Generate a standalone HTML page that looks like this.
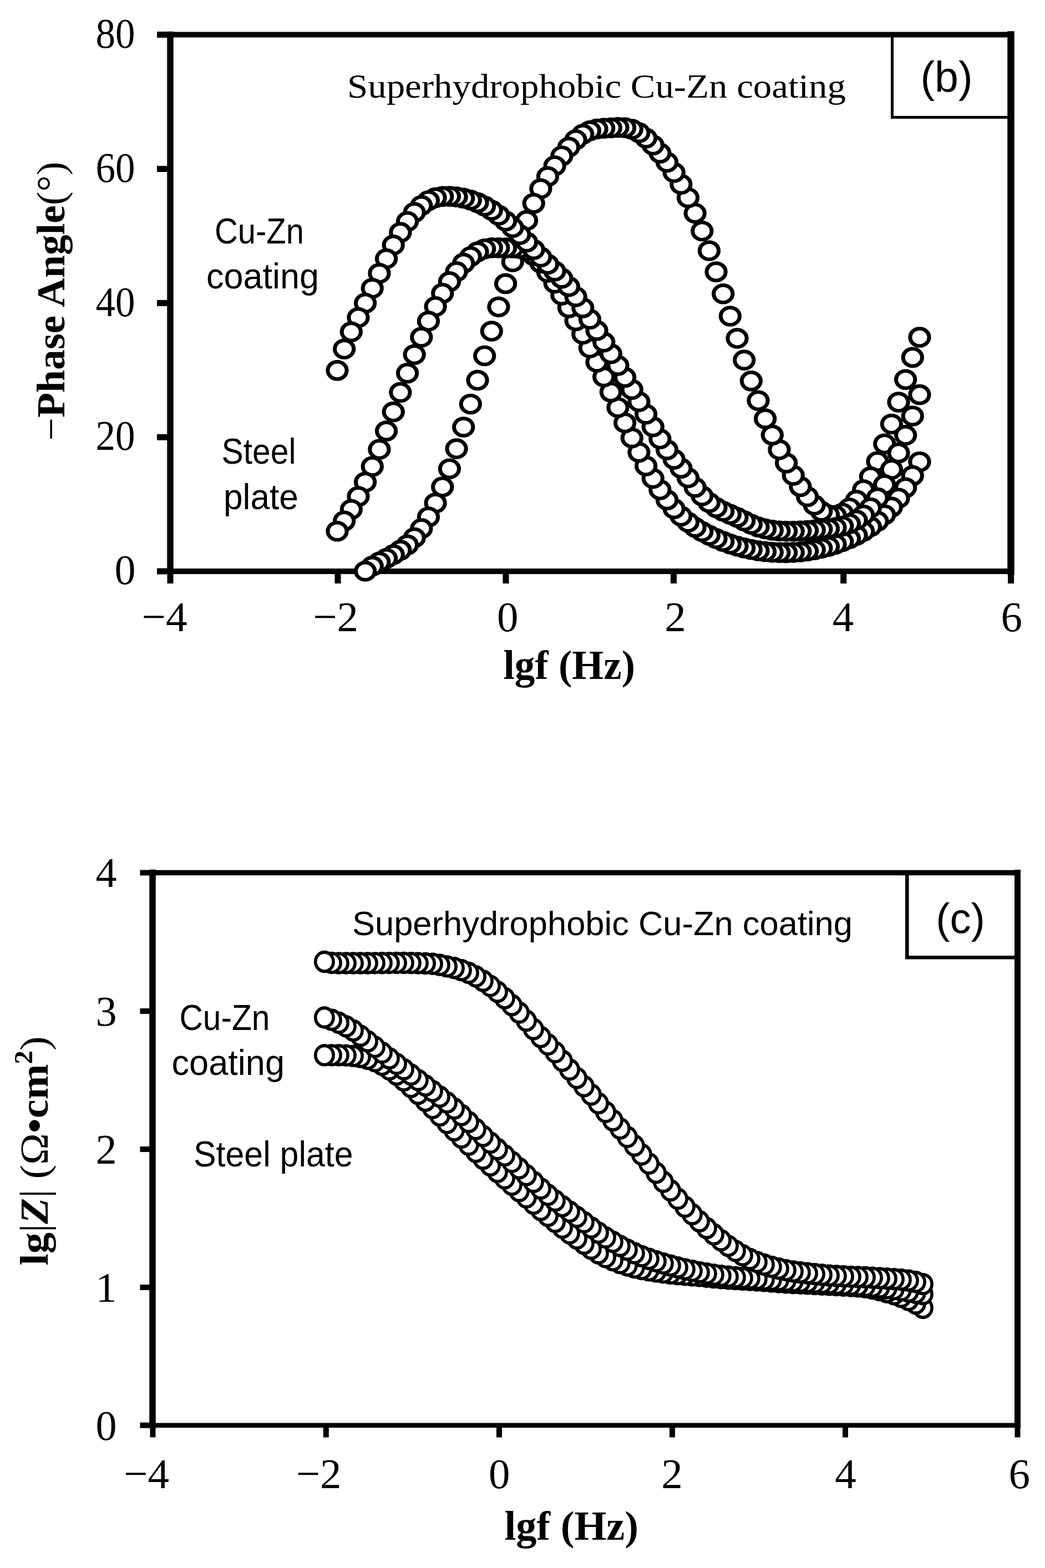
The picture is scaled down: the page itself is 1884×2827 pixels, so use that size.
<!DOCTYPE html>
<html><head><meta charset="utf-8"><title>EIS Bode plots</title>
<style>html,body{margin:0;padding:0;background:#fff;}svg{display:block;}</style>
</head><body>
<svg xmlns="http://www.w3.org/2000/svg" width="1884" height="2827" viewBox="0 0 1884 2827">
<rect x="0" y="0" width="1884" height="2827" fill="#fff"/>
<g stroke="#000" fill="none" stroke-linecap="square">
<line x1="307" y1="62.5" x2="1822.5" y2="62.5" stroke-width="10"/>
<line x1="307" y1="62.5" x2="307" y2="1030" stroke-width="11.5"/>
<line x1="1822.5" y1="62.5" x2="1822.5" y2="1030" stroke-width="12.5"/>
<line x1="307" y1="1030" x2="1822.5" y2="1030" stroke-width="10.2"/>
</g>
<g stroke="#000" stroke-width="11" fill="none">
<line x1="283" y1="1030.0" x2="307" y2="1030.0"/>
<line x1="283" y1="788.2" x2="307" y2="788.2"/>
<line x1="283" y1="546.4" x2="307" y2="546.4"/>
<line x1="283" y1="304.6" x2="307" y2="304.6"/>
<line x1="283" y1="62.5" x2="307" y2="62.5"/>
<line x1="307" y1="1030" x2="307" y2="1052"/>
<line x1="609" y1="1030" x2="609" y2="1052"/>
<line x1="912" y1="1030" x2="912" y2="1052"/>
<line x1="1214.5" y1="1030" x2="1214.5" y2="1052"/>
<line x1="1520.7" y1="1030" x2="1520.7" y2="1052"/>
<line x1="1822.5" y1="1030" x2="1822.5" y2="1052"/>
</g>
<path d="M1608.5,62 V211.5 H1822" stroke="#000" stroke-width="5" fill="none"/>
<g stroke="#000" fill="none" stroke-linecap="square">
<line x1="275" y1="1573.5" x2="1834.5" y2="1573.5" stroke-width="9.6"/>
<line x1="275" y1="1573.5" x2="275" y2="2569.7" stroke-width="11.5"/>
<line x1="1834.5" y1="1573.5" x2="1834.5" y2="2569.7" stroke-width="11"/>
<line x1="275" y1="2569.7" x2="1834.5" y2="2569.7" stroke-width="8.5"/>
</g>
<g stroke="#000" stroke-width="10" fill="none">
<line x1="252.5" y1="2569.7" x2="275" y2="2569.7"/>
<line x1="252.5" y1="2321.0" x2="275" y2="2321.0"/>
<line x1="252.5" y1="2072.0" x2="275" y2="2072.0"/>
<line x1="252.5" y1="1823.0" x2="275" y2="1823.0"/>
<line x1="252.5" y1="1573.5" x2="275" y2="1573.5"/>
<line x1="275.5" y1="2569.7" x2="275.5" y2="2591.5"/>
<line x1="587.8" y1="2569.7" x2="587.8" y2="2591.5"/>
<line x1="900" y1="2569.7" x2="900" y2="2591.5"/>
<line x1="1212" y1="2569.7" x2="1212" y2="2591.5"/>
<line x1="1524" y1="2569.7" x2="1524" y2="2591.5"/>
<line x1="1834.5" y1="2569.7" x2="1834.5" y2="2591.5"/>
</g>
<path d="M1635.3,1573 V1726.2 H1834" stroke="#000" stroke-width="6.5" fill="none"/>
<g fill="#fff" stroke="#000" stroke-width="6.45" transform="scale(1.1 1)">
<circle cx="1507.23" cy="608.10" r="15.55"/>
<circle cx="1495.73" cy="644.39" r="15.55"/>
<circle cx="1484.23" cy="684.21" r="15.55"/>
<circle cx="1472.73" cy="725.06" r="15.55"/>
<circle cx="1461.23" cy="764.47" r="15.55"/>
<circle cx="1449.73" cy="800.34" r="15.55"/>
<circle cx="1438.23" cy="832.15" r="15.55"/>
<circle cx="1426.73" cy="859.76" r="15.55"/>
<circle cx="1415.23" cy="883.02" r="15.55"/>
<circle cx="1403.73" cy="901.79" r="15.55"/>
<circle cx="1392.23" cy="915.91" r="15.55"/>
<circle cx="1380.73" cy="925.19" r="15.55"/>
<circle cx="1369.23" cy="929.38" r="15.55"/>
<circle cx="1357.73" cy="928.27" r="15.55"/>
<circle cx="1346.23" cy="921.79" r="15.55"/>
<circle cx="1334.73" cy="910.61" r="15.55"/>
<circle cx="1323.23" cy="895.52" r="15.55"/>
<circle cx="1311.73" cy="877.36" r="15.55"/>
<circle cx="1300.23" cy="856.94" r="15.55"/>
<circle cx="1288.73" cy="834.85" r="15.55"/>
<circle cx="1277.23" cy="810.83" r="15.55"/>
<circle cx="1265.73" cy="784.36" r="15.55"/>
<circle cx="1254.23" cy="754.96" r="15.55"/>
<circle cx="1242.73" cy="722.31" r="15.55"/>
<circle cx="1231.23" cy="686.86" r="15.55"/>
<circle cx="1219.73" cy="649.24" r="15.55"/>
<circle cx="1208.23" cy="610.08" r="15.55"/>
<circle cx="1196.73" cy="570.03" r="15.55"/>
<circle cx="1185.23" cy="529.75" r="15.55"/>
<circle cx="1173.73" cy="490.13" r="15.55"/>
<circle cx="1162.23" cy="452.09" r="15.55"/>
<circle cx="1150.73" cy="416.55" r="15.55"/>
<circle cx="1139.23" cy="384.43" r="15.55"/>
<circle cx="1127.73" cy="356.41" r="15.55"/>
<circle cx="1116.23" cy="332.16" r="15.55"/>
<circle cx="1104.73" cy="311.08" r="15.55"/>
<circle cx="1093.23" cy="292.59" r="15.55"/>
<circle cx="1081.73" cy="276.12" r="15.55"/>
<circle cx="1070.23" cy="261.41" r="15.55"/>
<circle cx="1058.73" cy="248.93" r="15.55"/>
<circle cx="1047.23" cy="239.26" r="15.55"/>
<circle cx="1035.73" cy="232.97" r="15.55"/>
<circle cx="1024.23" cy="230.19" r="15.55"/>
<circle cx="1012.73" cy="229.79" r="15.55"/>
<circle cx="1001.23" cy="230.47" r="15.55"/>
<circle cx="989.73" cy="231.21" r="15.55"/>
<circle cx="978.23" cy="232.59" r="15.55"/>
<circle cx="966.73" cy="235.79" r="15.55"/>
<circle cx="955.23" cy="241.95" r="15.55"/>
<circle cx="943.73" cy="251.92" r="15.55"/>
<circle cx="932.23" cy="265.25" r="15.55"/>
<circle cx="920.73" cy="281.18" r="15.55"/>
<circle cx="909.23" cy="298.94" r="15.55"/>
<circle cx="897.73" cy="318.20" r="15.55"/>
<circle cx="886.23" cy="340.27" r="15.55"/>
<circle cx="874.73" cy="366.61" r="15.55"/>
<circle cx="863.23" cy="397.49" r="15.55"/>
<circle cx="851.73" cy="432.92" r="15.55"/>
<circle cx="840.23" cy="471.92" r="15.55"/>
<circle cx="828.73" cy="511.39" r="15.55"/>
<circle cx="817.23" cy="553.27" r="15.55"/>
<circle cx="805.73" cy="597.07" r="15.55"/>
<circle cx="794.23" cy="641.43" r="15.55"/>
<circle cx="782.73" cy="685.50" r="15.55"/>
<circle cx="771.23" cy="728.59" r="15.55"/>
<circle cx="759.73" cy="770.02" r="15.55"/>
<circle cx="748.23" cy="809.08" r="15.55"/>
<circle cx="736.73" cy="845.17" r="15.55"/>
<circle cx="725.23" cy="877.90" r="15.55"/>
<circle cx="713.73" cy="906.99" r="15.55"/>
<circle cx="702.23" cy="932.14" r="15.55"/>
<circle cx="690.73" cy="953.05" r="15.55"/>
<circle cx="679.23" cy="969.56" r="15.55"/>
<circle cx="667.73" cy="982.27" r="15.55"/>
<circle cx="656.23" cy="992.10" r="15.55"/>
<circle cx="644.73" cy="999.95" r="15.55"/>
<circle cx="633.23" cy="1006.73" r="15.55"/>
<circle cx="621.73" cy="1013.36" r="15.55"/>
<circle cx="610.23" cy="1020.74" r="15.55"/>
<circle cx="598.73" cy="1029.79" r="15.55"/>
<circle cx="1507.23" cy="832.65" r="15.55"/>
<circle cx="1495.73" cy="857.61" r="15.55"/>
<circle cx="1484.23" cy="879.36" r="15.55"/>
<circle cx="1472.73" cy="898.18" r="15.55"/>
<circle cx="1461.23" cy="914.36" r="15.55"/>
<circle cx="1449.73" cy="928.15" r="15.55"/>
<circle cx="1438.23" cy="939.85" r="15.55"/>
<circle cx="1426.73" cy="949.74" r="15.55"/>
<circle cx="1415.23" cy="958.08" r="15.55"/>
<circle cx="1403.73" cy="965.15" r="15.55"/>
<circle cx="1392.23" cy="971.25" r="15.55"/>
<circle cx="1380.73" cy="976.59" r="15.55"/>
<circle cx="1369.23" cy="981.24" r="15.55"/>
<circle cx="1357.73" cy="985.23" r="15.55"/>
<circle cx="1346.23" cy="988.58" r="15.55"/>
<circle cx="1334.73" cy="991.30" r="15.55"/>
<circle cx="1323.23" cy="993.42" r="15.55"/>
<circle cx="1311.73" cy="994.96" r="15.55"/>
<circle cx="1300.23" cy="995.93" r="15.55"/>
<circle cx="1288.73" cy="996.37" r="15.55"/>
<circle cx="1277.23" cy="996.29" r="15.55"/>
<circle cx="1265.73" cy="995.70" r="15.55"/>
<circle cx="1254.23" cy="994.60" r="15.55"/>
<circle cx="1242.73" cy="992.96" r="15.55"/>
<circle cx="1231.23" cy="990.78" r="15.55"/>
<circle cx="1219.73" cy="988.02" r="15.55"/>
<circle cx="1208.23" cy="984.67" r="15.55"/>
<circle cx="1196.73" cy="980.72" r="15.55"/>
<circle cx="1185.23" cy="976.14" r="15.55"/>
<circle cx="1173.73" cy="970.92" r="15.55"/>
<circle cx="1162.23" cy="965.04" r="15.55"/>
<circle cx="1150.73" cy="958.42" r="15.55"/>
<circle cx="1139.23" cy="950.72" r="15.55"/>
<circle cx="1127.73" cy="941.55" r="15.55"/>
<circle cx="1116.23" cy="930.52" r="15.55"/>
<circle cx="1104.73" cy="917.23" r="15.55"/>
<circle cx="1093.23" cy="901.38" r="15.55"/>
<circle cx="1081.73" cy="883.09" r="15.55"/>
<circle cx="1070.23" cy="862.54" r="15.55"/>
<circle cx="1058.73" cy="839.95" r="15.55"/>
<circle cx="1047.23" cy="815.53" r="15.55"/>
<circle cx="1035.73" cy="789.52" r="15.55"/>
<circle cx="1024.23" cy="762.40" r="15.55"/>
<circle cx="1012.73" cy="734.68" r="15.55"/>
<circle cx="1001.23" cy="706.87" r="15.55"/>
<circle cx="989.73" cy="679.50" r="15.55"/>
<circle cx="978.23" cy="652.98" r="15.55"/>
<circle cx="966.73" cy="627.33" r="15.55"/>
<circle cx="955.23" cy="602.48" r="15.55"/>
<circle cx="943.73" cy="578.35" r="15.55"/>
<circle cx="932.23" cy="554.86" r="15.55"/>
<circle cx="920.73" cy="532.07" r="15.55"/>
<circle cx="909.23" cy="510.54" r="15.55"/>
<circle cx="897.73" cy="490.96" r="15.55"/>
<circle cx="886.23" cy="474.13" r="15.55"/>
<circle cx="874.73" cy="460.88" r="15.55"/>
<circle cx="863.23" cy="452.08" r="15.55"/>
<circle cx="851.73" cy="448.02" r="15.55"/>
<circle cx="840.23" cy="447.06" r="15.55"/>
<circle cx="828.73" cy="447.10" r="15.55"/>
<circle cx="817.23" cy="446.67" r="15.55"/>
<circle cx="805.73" cy="446.70" r="15.55"/>
<circle cx="794.23" cy="448.72" r="15.55"/>
<circle cx="782.73" cy="454.00" r="15.55"/>
<circle cx="771.23" cy="462.68" r="15.55"/>
<circle cx="759.73" cy="474.64" r="15.55"/>
<circle cx="748.23" cy="489.75" r="15.55"/>
<circle cx="736.73" cy="507.87" r="15.55"/>
<circle cx="725.23" cy="528.89" r="15.55"/>
<circle cx="713.73" cy="552.67" r="15.55"/>
<circle cx="702.23" cy="579.08" r="15.55"/>
<circle cx="690.73" cy="608.00" r="15.55"/>
<circle cx="679.23" cy="639.30" r="15.55"/>
<circle cx="667.73" cy="672.72" r="15.55"/>
<circle cx="656.23" cy="707.45" r="15.55"/>
<circle cx="644.73" cy="742.56" r="15.55"/>
<circle cx="633.23" cy="777.11" r="15.55"/>
<circle cx="621.73" cy="810.17" r="15.55"/>
<circle cx="610.23" cy="840.94" r="15.55"/>
<circle cx="598.73" cy="869.27" r="15.55"/>
<circle cx="587.23" cy="895.12" r="15.55"/>
<circle cx="575.73" cy="918.50" r="15.55"/>
<circle cx="564.23" cy="939.37" r="15.55"/>
<circle cx="552.73" cy="957.73" r="15.55"/>
<circle cx="1507.23" cy="711.60" r="15.55"/>
<circle cx="1495.73" cy="750.07" r="15.55"/>
<circle cx="1484.23" cy="784.83" r="15.55"/>
<circle cx="1472.73" cy="816.64" r="15.55"/>
<circle cx="1461.23" cy="846.24" r="15.55"/>
<circle cx="1449.73" cy="873.85" r="15.55"/>
<circle cx="1438.23" cy="897.58" r="15.55"/>
<circle cx="1426.73" cy="915.62" r="15.55"/>
<circle cx="1415.23" cy="928.60" r="15.55"/>
<circle cx="1403.73" cy="937.74" r="15.55"/>
<circle cx="1392.23" cy="944.17" r="15.55"/>
<circle cx="1380.73" cy="948.52" r="15.55"/>
<circle cx="1369.23" cy="951.32" r="15.55"/>
<circle cx="1357.73" cy="953.08" r="15.55"/>
<circle cx="1346.23" cy="954.32" r="15.55"/>
<circle cx="1334.73" cy="955.47" r="15.55"/>
<circle cx="1323.23" cy="956.50" r="15.55"/>
<circle cx="1311.73" cy="957.31" r="15.55"/>
<circle cx="1300.23" cy="957.78" r="15.55"/>
<circle cx="1288.73" cy="957.80" r="15.55"/>
<circle cx="1277.23" cy="957.23" r="15.55"/>
<circle cx="1265.73" cy="955.89" r="15.55"/>
<circle cx="1254.23" cy="953.59" r="15.55"/>
<circle cx="1242.73" cy="950.11" r="15.55"/>
<circle cx="1231.23" cy="945.26" r="15.55"/>
<circle cx="1219.73" cy="939.11" r="15.55"/>
<circle cx="1208.23" cy="932.79" r="15.55"/>
<circle cx="1196.73" cy="927.27" r="15.55"/>
<circle cx="1185.23" cy="921.78" r="15.55"/>
<circle cx="1173.73" cy="915.11" r="15.55"/>
<circle cx="1162.23" cy="906.14" r="15.55"/>
<circle cx="1150.73" cy="894.09" r="15.55"/>
<circle cx="1139.23" cy="878.70" r="15.55"/>
<circle cx="1127.73" cy="861.42" r="15.55"/>
<circle cx="1116.23" cy="844.14" r="15.55"/>
<circle cx="1104.73" cy="827.97" r="15.55"/>
<circle cx="1093.23" cy="811.02" r="15.55"/>
<circle cx="1081.73" cy="791.32" r="15.55"/>
<circle cx="1070.23" cy="769.48" r="15.55"/>
<circle cx="1058.73" cy="746.79" r="15.55"/>
<circle cx="1047.23" cy="724.28" r="15.55"/>
<circle cx="1035.73" cy="702.16" r="15.55"/>
<circle cx="1024.23" cy="680.38" r="15.55"/>
<circle cx="1012.73" cy="658.91" r="15.55"/>
<circle cx="1001.23" cy="637.72" r="15.55"/>
<circle cx="989.73" cy="616.76" r="15.55"/>
<circle cx="978.23" cy="596.01" r="15.55"/>
<circle cx="966.73" cy="575.43" r="15.55"/>
<circle cx="955.23" cy="554.98" r="15.55"/>
<circle cx="943.73" cy="534.93" r="15.55"/>
<circle cx="932.23" cy="516.76" r="15.55"/>
<circle cx="920.73" cy="501.68" r="15.55"/>
<circle cx="909.23" cy="488.73" r="15.55"/>
<circle cx="897.73" cy="476.40" r="15.55"/>
<circle cx="886.23" cy="463.49" r="15.55"/>
<circle cx="874.73" cy="450.05" r="15.55"/>
<circle cx="863.23" cy="436.46" r="15.55"/>
<circle cx="851.73" cy="423.09" r="15.55"/>
<circle cx="840.23" cy="410.30" r="15.55"/>
<circle cx="828.73" cy="398.48" r="15.55"/>
<circle cx="817.23" cy="387.98" r="15.55"/>
<circle cx="805.73" cy="379.00" r="15.55"/>
<circle cx="794.23" cy="371.48" r="15.55"/>
<circle cx="782.73" cy="365.39" r="15.55"/>
<circle cx="771.23" cy="360.65" r="15.55"/>
<circle cx="759.73" cy="357.20" r="15.55"/>
<circle cx="748.23" cy="355.00" r="15.55"/>
<circle cx="736.73" cy="353.99" r="15.55"/>
<circle cx="725.23" cy="354.24" r="15.55"/>
<circle cx="713.73" cy="356.49" r="15.55"/>
<circle cx="702.23" cy="361.66" r="15.55"/>
<circle cx="690.73" cy="370.48" r="15.55"/>
<circle cx="679.23" cy="383.05" r="15.55"/>
<circle cx="667.73" cy="399.32" r="15.55"/>
<circle cx="656.23" cy="419.10" r="15.55"/>
<circle cx="644.73" cy="441.76" r="15.55"/>
<circle cx="633.23" cy="466.58" r="15.55"/>
<circle cx="621.73" cy="492.81" r="15.55"/>
<circle cx="610.23" cy="519.71" r="15.55"/>
<circle cx="598.73" cy="546.54" r="15.55"/>
<circle cx="587.23" cy="572.50" r="15.55"/>
<circle cx="575.73" cy="598.28" r="15.55"/>
<circle cx="564.23" cy="629.31" r="15.55"/>
<circle cx="552.73" cy="667.86" r="15.55"/>
</g>
<g fill="#fff" stroke="#000" stroke-width="5.6" transform="scale(1 1.062)">
<circle cx="1663.90" cy="2220.32" r="16.2"/>
<circle cx="1650.90" cy="2212.94" r="16.2"/>
<circle cx="1637.90" cy="2206.96" r="16.2"/>
<circle cx="1624.90" cy="2201.70" r="16.2"/>
<circle cx="1611.90" cy="2197.35" r="16.2"/>
<circle cx="1598.90" cy="2193.72" r="16.2"/>
<circle cx="1585.90" cy="2190.36" r="16.2"/>
<circle cx="1572.90" cy="2187.49" r="16.2"/>
<circle cx="1559.90" cy="2185.33" r="16.2"/>
<circle cx="1546.90" cy="2184.03" r="16.2"/>
<circle cx="1533.90" cy="2183.12" r="16.2"/>
<circle cx="1520.90" cy="2182.40" r="16.2"/>
<circle cx="1507.90" cy="2181.79" r="16.2"/>
<circle cx="1494.90" cy="2181.19" r="16.2"/>
<circle cx="1481.90" cy="2180.53" r="16.2"/>
<circle cx="1468.90" cy="2179.90" r="16.2"/>
<circle cx="1455.90" cy="2179.31" r="16.2"/>
<circle cx="1442.90" cy="2178.73" r="16.2"/>
<circle cx="1429.90" cy="2178.11" r="16.2"/>
<circle cx="1416.90" cy="2177.43" r="16.2"/>
<circle cx="1403.90" cy="2176.63" r="16.2"/>
<circle cx="1390.90" cy="2175.64" r="16.2"/>
<circle cx="1377.90" cy="2174.62" r="16.2"/>
<circle cx="1364.90" cy="2173.73" r="16.2"/>
<circle cx="1351.90" cy="2172.95" r="16.2"/>
<circle cx="1338.90" cy="2172.22" r="16.2"/>
<circle cx="1325.90" cy="2171.48" r="16.2"/>
<circle cx="1312.90" cy="2170.69" r="16.2"/>
<circle cx="1299.90" cy="2169.79" r="16.2"/>
<circle cx="1286.90" cy="2168.67" r="16.2"/>
<circle cx="1273.90" cy="2167.33" r="16.2"/>
<circle cx="1260.90" cy="2166.14" r="16.2"/>
<circle cx="1247.90" cy="2165.12" r="16.2"/>
<circle cx="1234.90" cy="2164.15" r="16.2"/>
<circle cx="1221.90" cy="2163.10" r="16.2"/>
<circle cx="1208.90" cy="2161.84" r="16.2"/>
<circle cx="1195.90" cy="2160.37" r="16.2"/>
<circle cx="1182.90" cy="2158.67" r="16.2"/>
<circle cx="1169.90" cy="2156.71" r="16.2"/>
<circle cx="1156.90" cy="2154.44" r="16.2"/>
<circle cx="1143.90" cy="2151.72" r="16.2"/>
<circle cx="1130.90" cy="2148.30" r="16.2"/>
<circle cx="1117.90" cy="2144.21" r="16.2"/>
<circle cx="1104.90" cy="2139.53" r="16.2"/>
<circle cx="1091.90" cy="2134.27" r="16.2"/>
<circle cx="1078.90" cy="2127.72" r="16.2"/>
<circle cx="1065.90" cy="2119.95" r="16.2"/>
<circle cx="1052.90" cy="2111.45" r="16.2"/>
<circle cx="1039.90" cy="2102.69" r="16.2"/>
<circle cx="1026.90" cy="2093.79" r="16.2"/>
<circle cx="1013.90" cy="2084.27" r="16.2"/>
<circle cx="1000.90" cy="2074.35" r="16.2"/>
<circle cx="987.90" cy="2064.28" r="16.2"/>
<circle cx="974.90" cy="2054.01" r="16.2"/>
<circle cx="961.90" cy="2043.49" r="16.2"/>
<circle cx="948.90" cy="2032.81" r="16.2"/>
<circle cx="935.90" cy="2022.06" r="16.2"/>
<circle cx="922.90" cy="2011.31" r="16.2"/>
<circle cx="909.90" cy="2000.55" r="16.2"/>
<circle cx="896.90" cy="1989.67" r="16.2"/>
<circle cx="883.90" cy="1978.58" r="16.2"/>
<circle cx="870.90" cy="1967.17" r="16.2"/>
<circle cx="857.90" cy="1955.41" r="16.2"/>
<circle cx="844.90" cy="1943.38" r="16.2"/>
<circle cx="831.90" cy="1931.18" r="16.2"/>
<circle cx="818.90" cy="1918.93" r="16.2"/>
<circle cx="805.90" cy="1906.51" r="16.2"/>
<circle cx="792.90" cy="1893.80" r="16.2"/>
<circle cx="779.90" cy="1881.13" r="16.2"/>
<circle cx="766.90" cy="1868.81" r="16.2"/>
<circle cx="753.90" cy="1857.03" r="16.2"/>
<circle cx="740.90" cy="1845.33" r="16.2"/>
<circle cx="727.90" cy="1834.19" r="16.2"/>
<circle cx="714.90" cy="1824.28" r="16.2"/>
<circle cx="701.90" cy="1815.54" r="16.2"/>
<circle cx="688.90" cy="1807.63" r="16.2"/>
<circle cx="675.90" cy="1801.63" r="16.2"/>
<circle cx="662.90" cy="1797.50" r="16.2"/>
<circle cx="649.90" cy="1794.50" r="16.2"/>
<circle cx="636.90" cy="1792.86" r="16.2"/>
<circle cx="623.90" cy="1791.73" r="16.2"/>
<circle cx="610.90" cy="1791.41" r="16.2"/>
<circle cx="597.90" cy="1791.36" r="16.2"/>
<circle cx="584.90" cy="1791.34" r="16.2"/>
<circle cx="1663.90" cy="2197.03" r="16.2"/>
<circle cx="1650.90" cy="2194.83" r="16.2"/>
<circle cx="1637.90" cy="2192.69" r="16.2"/>
<circle cx="1624.90" cy="2190.52" r="16.2"/>
<circle cx="1611.90" cy="2188.57" r="16.2"/>
<circle cx="1598.90" cy="2187.01" r="16.2"/>
<circle cx="1585.90" cy="2185.61" r="16.2"/>
<circle cx="1572.90" cy="2184.36" r="16.2"/>
<circle cx="1559.90" cy="2183.23" r="16.2"/>
<circle cx="1546.90" cy="2182.21" r="16.2"/>
<circle cx="1533.90" cy="2181.31" r="16.2"/>
<circle cx="1520.90" cy="2180.48" r="16.2"/>
<circle cx="1507.90" cy="2179.69" r="16.2"/>
<circle cx="1494.90" cy="2178.90" r="16.2"/>
<circle cx="1481.90" cy="2178.11" r="16.2"/>
<circle cx="1468.90" cy="2177.33" r="16.2"/>
<circle cx="1455.90" cy="2176.58" r="16.2"/>
<circle cx="1442.90" cy="2175.82" r="16.2"/>
<circle cx="1429.90" cy="2175.07" r="16.2"/>
<circle cx="1416.90" cy="2174.29" r="16.2"/>
<circle cx="1403.90" cy="2173.50" r="16.2"/>
<circle cx="1390.90" cy="2172.70" r="16.2"/>
<circle cx="1377.90" cy="2171.94" r="16.2"/>
<circle cx="1364.90" cy="2171.19" r="16.2"/>
<circle cx="1351.90" cy="2170.40" r="16.2"/>
<circle cx="1338.90" cy="2169.54" r="16.2"/>
<circle cx="1325.90" cy="2168.55" r="16.2"/>
<circle cx="1312.90" cy="2167.41" r="16.2"/>
<circle cx="1299.90" cy="2165.95" r="16.2"/>
<circle cx="1286.90" cy="2164.16" r="16.2"/>
<circle cx="1273.90" cy="2162.15" r="16.2"/>
<circle cx="1260.90" cy="2159.96" r="16.2"/>
<circle cx="1247.90" cy="2157.49" r="16.2"/>
<circle cx="1234.90" cy="2154.72" r="16.2"/>
<circle cx="1221.90" cy="2151.71" r="16.2"/>
<circle cx="1208.90" cy="2148.50" r="16.2"/>
<circle cx="1195.90" cy="2145.06" r="16.2"/>
<circle cx="1182.90" cy="2141.33" r="16.2"/>
<circle cx="1169.90" cy="2137.23" r="16.2"/>
<circle cx="1156.90" cy="2132.71" r="16.2"/>
<circle cx="1143.90" cy="2127.63" r="16.2"/>
<circle cx="1130.90" cy="2121.75" r="16.2"/>
<circle cx="1117.90" cy="2115.22" r="16.2"/>
<circle cx="1104.90" cy="2108.21" r="16.2"/>
<circle cx="1091.90" cy="2100.84" r="16.2"/>
<circle cx="1078.90" cy="2092.76" r="16.2"/>
<circle cx="1065.90" cy="2084.01" r="16.2"/>
<circle cx="1052.90" cy="2074.93" r="16.2"/>
<circle cx="1039.90" cy="2065.84" r="16.2"/>
<circle cx="1026.90" cy="2056.87" r="16.2"/>
<circle cx="1013.90" cy="2047.80" r="16.2"/>
<circle cx="1000.90" cy="2038.40" r="16.2"/>
<circle cx="987.90" cy="2028.48" r="16.2"/>
<circle cx="974.90" cy="2017.78" r="16.2"/>
<circle cx="961.90" cy="2006.49" r="16.2"/>
<circle cx="948.90" cy="1994.97" r="16.2"/>
<circle cx="935.90" cy="1983.57" r="16.2"/>
<circle cx="922.90" cy="1972.53" r="16.2"/>
<circle cx="909.90" cy="1961.66" r="16.2"/>
<circle cx="896.90" cy="1950.81" r="16.2"/>
<circle cx="883.90" cy="1939.85" r="16.2"/>
<circle cx="870.90" cy="1928.61" r="16.2"/>
<circle cx="857.90" cy="1916.86" r="16.2"/>
<circle cx="844.90" cy="1904.89" r="16.2"/>
<circle cx="831.90" cy="1893.12" r="16.2"/>
<circle cx="818.90" cy="1881.97" r="16.2"/>
<circle cx="805.90" cy="1871.65" r="16.2"/>
<circle cx="792.90" cy="1861.86" r="16.2"/>
<circle cx="779.90" cy="1852.39" r="16.2"/>
<circle cx="766.90" cy="1843.03" r="16.2"/>
<circle cx="753.90" cy="1833.64" r="16.2"/>
<circle cx="740.90" cy="1824.41" r="16.2"/>
<circle cx="727.90" cy="1815.28" r="16.2"/>
<circle cx="714.90" cy="1806.10" r="16.2"/>
<circle cx="701.90" cy="1796.75" r="16.2"/>
<circle cx="688.90" cy="1787.03" r="16.2"/>
<circle cx="675.90" cy="1777.22" r="16.2"/>
<circle cx="662.90" cy="1767.81" r="16.2"/>
<circle cx="649.90" cy="1758.38" r="16.2"/>
<circle cx="636.90" cy="1749.50" r="16.2"/>
<circle cx="623.90" cy="1742.35" r="16.2"/>
<circle cx="610.90" cy="1736.37" r="16.2"/>
<circle cx="597.90" cy="1731.28" r="16.2"/>
<circle cx="584.90" cy="1727.38" r="16.2"/>
<circle cx="1663.90" cy="2179.98" r="16.2"/>
<circle cx="1650.90" cy="2176.29" r="16.2"/>
<circle cx="1637.90" cy="2173.93" r="16.2"/>
<circle cx="1624.90" cy="2172.54" r="16.2"/>
<circle cx="1611.90" cy="2171.50" r="16.2"/>
<circle cx="1598.90" cy="2170.64" r="16.2"/>
<circle cx="1585.90" cy="2169.84" r="16.2"/>
<circle cx="1572.90" cy="2169.15" r="16.2"/>
<circle cx="1559.90" cy="2168.56" r="16.2"/>
<circle cx="1546.90" cy="2168.03" r="16.2"/>
<circle cx="1533.90" cy="2167.49" r="16.2"/>
<circle cx="1520.90" cy="2166.90" r="16.2"/>
<circle cx="1507.90" cy="2166.21" r="16.2"/>
<circle cx="1494.90" cy="2165.37" r="16.2"/>
<circle cx="1481.90" cy="2164.26" r="16.2"/>
<circle cx="1468.90" cy="2163.01" r="16.2"/>
<circle cx="1455.90" cy="2161.71" r="16.2"/>
<circle cx="1442.90" cy="2160.27" r="16.2"/>
<circle cx="1429.90" cy="2158.55" r="16.2"/>
<circle cx="1416.90" cy="2156.37" r="16.2"/>
<circle cx="1403.90" cy="2153.68" r="16.2"/>
<circle cx="1390.90" cy="2150.56" r="16.2"/>
<circle cx="1377.90" cy="2146.88" r="16.2"/>
<circle cx="1364.90" cy="2142.49" r="16.2"/>
<circle cx="1351.90" cy="2137.39" r="16.2"/>
<circle cx="1338.90" cy="2131.09" r="16.2"/>
<circle cx="1325.90" cy="2123.65" r="16.2"/>
<circle cx="1312.90" cy="2115.17" r="16.2"/>
<circle cx="1299.90" cy="2105.64" r="16.2"/>
<circle cx="1286.90" cy="2095.59" r="16.2"/>
<circle cx="1273.90" cy="2084.86" r="16.2"/>
<circle cx="1260.90" cy="2073.48" r="16.2"/>
<circle cx="1247.90" cy="2061.39" r="16.2"/>
<circle cx="1234.90" cy="2048.60" r="16.2"/>
<circle cx="1221.90" cy="2035.16" r="16.2"/>
<circle cx="1208.90" cy="2020.97" r="16.2"/>
<circle cx="1195.90" cy="2006.31" r="16.2"/>
<circle cx="1182.90" cy="1991.01" r="16.2"/>
<circle cx="1169.90" cy="1975.37" r="16.2"/>
<circle cx="1156.90" cy="1960.01" r="16.2"/>
<circle cx="1143.90" cy="1944.95" r="16.2"/>
<circle cx="1130.90" cy="1930.16" r="16.2"/>
<circle cx="1117.90" cy="1915.87" r="16.2"/>
<circle cx="1104.90" cy="1901.97" r="16.2"/>
<circle cx="1091.90" cy="1887.78" r="16.2"/>
<circle cx="1078.90" cy="1873.03" r="16.2"/>
<circle cx="1065.90" cy="1858.28" r="16.2"/>
<circle cx="1052.90" cy="1844.05" r="16.2"/>
<circle cx="1039.90" cy="1830.09" r="16.2"/>
<circle cx="1026.90" cy="1815.79" r="16.2"/>
<circle cx="1013.90" cy="1800.87" r="16.2"/>
<circle cx="1000.90" cy="1786.34" r="16.2"/>
<circle cx="987.90" cy="1773.15" r="16.2"/>
<circle cx="974.90" cy="1760.54" r="16.2"/>
<circle cx="961.90" cy="1747.16" r="16.2"/>
<circle cx="948.90" cy="1732.81" r="16.2"/>
<circle cx="935.90" cy="1719.03" r="16.2"/>
<circle cx="922.90" cy="1706.46" r="16.2"/>
<circle cx="909.90" cy="1694.70" r="16.2"/>
<circle cx="896.90" cy="1683.90" r="16.2"/>
<circle cx="883.90" cy="1673.79" r="16.2"/>
<circle cx="870.90" cy="1665.13" r="16.2"/>
<circle cx="857.90" cy="1657.75" r="16.2"/>
<circle cx="844.90" cy="1651.59" r="16.2"/>
<circle cx="831.90" cy="1647.02" r="16.2"/>
<circle cx="818.90" cy="1643.40" r="16.2"/>
<circle cx="805.90" cy="1640.65" r="16.2"/>
<circle cx="792.90" cy="1638.22" r="16.2"/>
<circle cx="779.90" cy="1636.33" r="16.2"/>
<circle cx="766.90" cy="1635.49" r="16.2"/>
<circle cx="753.90" cy="1635.11" r="16.2"/>
<circle cx="740.90" cy="1634.83" r="16.2"/>
<circle cx="727.90" cy="1634.68" r="16.2"/>
<circle cx="714.90" cy="1634.66" r="16.2"/>
<circle cx="701.90" cy="1634.73" r="16.2"/>
<circle cx="688.90" cy="1634.85" r="16.2"/>
<circle cx="675.90" cy="1634.98" r="16.2"/>
<circle cx="662.90" cy="1635.08" r="16.2"/>
<circle cx="649.90" cy="1635.12" r="16.2"/>
<circle cx="636.90" cy="1635.12" r="16.2"/>
<circle cx="623.90" cy="1635.12" r="16.2"/>
<circle cx="610.90" cy="1635.12" r="16.2"/>
<circle cx="597.90" cy="1634.65" r="16.2"/>
<circle cx="584.90" cy="1632.75" r="16.2"/>
</g>
<g fill="#000">
<text x="244.5" y="1053.2" font-family='"Liberation Serif", "Times New Roman", serif' font-size="76" font-weight="normal" text-anchor="end" >0</text>
<text x="243.5" y="811.4" font-family='"Liberation Serif", "Times New Roman", serif' font-size="76" font-weight="normal" text-anchor="end" textLength="71" lengthAdjust="spacingAndGlyphs">20</text>
<text x="243.5" y="569.6" font-family='"Liberation Serif", "Times New Roman", serif' font-size="76" font-weight="normal" text-anchor="end" textLength="71" lengthAdjust="spacingAndGlyphs">40</text>
<text x="243.5" y="327.8" font-family='"Liberation Serif", "Times New Roman", serif' font-size="76" font-weight="normal" text-anchor="end" textLength="71" lengthAdjust="spacingAndGlyphs">60</text>
<text x="243.5" y="85.7" font-family='"Liberation Serif", "Times New Roman", serif' font-size="76" font-weight="normal" text-anchor="end" textLength="71" lengthAdjust="spacingAndGlyphs">80</text>
<text x="296.5" y="1138.3" font-family='"Liberation Serif", "Times New Roman", serif' font-size="77" font-weight="normal" text-anchor="middle" >−4</text>
<text x="605.1" y="1138.3" font-family='"Liberation Serif", "Times New Roman", serif' font-size="77" font-weight="normal" text-anchor="middle" >−2</text>
<text x="915.2" y="1138.3" font-family='"Liberation Serif", "Times New Roman", serif' font-size="77" font-weight="normal" text-anchor="middle" >0</text>
<text x="1217.6" y="1138.3" font-family='"Liberation Serif", "Times New Roman", serif' font-size="77" font-weight="normal" text-anchor="middle" >2</text>
<text x="1520" y="1138.3" font-family='"Liberation Serif", "Times New Roman", serif' font-size="77" font-weight="normal" text-anchor="middle" >4</text>
<text x="1823.8" y="1138.3" font-family='"Liberation Serif", "Times New Roman", serif' font-size="77" font-weight="normal" text-anchor="middle" >6</text>
<text x="907.5" y="1224" font-family='"Liberation Serif", "Times New Roman", serif' font-size="73" font-weight="bold" text-anchor="start" textLength="237.5" lengthAdjust="spacingAndGlyphs">lgf (Hz)</text>
<text transform="translate(115.5,794.5) rotate(-90)" font-family='"Liberation Serif", "Times New Roman", serif' font-size="72" text-anchor="start" textLength="503" lengthAdjust="spacingAndGlyphs"><tspan>−</tspan><tspan font-weight="bold">Phase Angle</tspan><tspan>(°)</tspan></text>
<text x="626" y="175.6" font-family='"Liberation Serif", "Times New Roman", serif' font-size="62" font-weight="normal" text-anchor="start" textLength="899" lengthAdjust="spacingAndGlyphs">Superhydrophobic Cu-Zn coating</text>
<text x="1706.5" y="166" font-family='"Liberation Sans", Arial, sans-serif' font-size="77" font-weight="normal" text-anchor="middle" >(b)</text>
<text x="387" y="438.6" font-family='"Liberation Sans", Arial, sans-serif' font-size="65" font-weight="normal" text-anchor="start" textLength="161" lengthAdjust="spacingAndGlyphs">Cu-Zn</text>
<text x="372" y="520" font-family='"Liberation Sans", Arial, sans-serif' font-size="65" font-weight="normal" text-anchor="start" textLength="203" lengthAdjust="spacingAndGlyphs">coating</text>
<text x="399.5" y="836.3" font-family='"Liberation Sans", Arial, sans-serif' font-size="65" font-weight="normal" text-anchor="start" textLength="134" lengthAdjust="spacingAndGlyphs">Steel</text>
<text x="403" y="918" font-family='"Liberation Sans", Arial, sans-serif' font-size="65" font-weight="normal" text-anchor="start" textLength="135" lengthAdjust="spacingAndGlyphs">plate</text>
<text x="210.5" y="2595.8" font-family='"Liberation Serif", "Times New Roman", serif' font-size="76" font-weight="normal" text-anchor="end" >0</text>
<text x="210.5" y="2346.8" font-family='"Liberation Serif", "Times New Roman", serif' font-size="76" font-weight="normal" text-anchor="end" >1</text>
<text x="210.5" y="2097.8" font-family='"Liberation Serif", "Times New Roman", serif' font-size="76" font-weight="normal" text-anchor="end" >2</text>
<text x="210.5" y="1848.8" font-family='"Liberation Serif", "Times New Roman", serif' font-size="76" font-weight="normal" text-anchor="end" >3</text>
<text x="210.5" y="1599.3" font-family='"Liberation Serif", "Times New Roman", serif' font-size="76" font-weight="normal" text-anchor="end" >4</text>
<text x="264" y="2682.5" font-family='"Liberation Serif", "Times New Roman", serif' font-size="77" font-weight="normal" text-anchor="middle" >−4</text>
<text x="574.6" y="2682.5" font-family='"Liberation Serif", "Times New Roman", serif' font-size="77" font-weight="normal" text-anchor="middle" >−2</text>
<text x="900.3" y="2682.5" font-family='"Liberation Serif", "Times New Roman", serif' font-size="77" font-weight="normal" text-anchor="middle" >0</text>
<text x="1211.5" y="2682.5" font-family='"Liberation Serif", "Times New Roman", serif' font-size="77" font-weight="normal" text-anchor="middle" >2</text>
<text x="1524.6" y="2682.5" font-family='"Liberation Serif", "Times New Roman", serif' font-size="77" font-weight="normal" text-anchor="middle" >4</text>
<text x="1837.8" y="2682.5" font-family='"Liberation Serif", "Times New Roman", serif' font-size="77" font-weight="normal" text-anchor="middle" >6</text>
<text x="909.5" y="2776" font-family='"Liberation Serif", "Times New Roman", serif' font-size="74" font-weight="bold" text-anchor="start" textLength="241.5" lengthAdjust="spacingAndGlyphs">lgf (Hz)</text>
<text transform="translate(86,2281.5) rotate(-90)" font-family='"Liberation Serif", "Times New Roman", serif' font-size="72" text-anchor="start" textLength="413" lengthAdjust="spacingAndGlyphs"><tspan font-weight="bold">lg</tspan><tspan>|</tspan><tspan font-weight="bold" font-style="italic">Z</tspan><tspan>| (Ω</tspan><tspan font-weight="bold">•cm</tspan><tspan font-weight="bold" font-size="46" dy="-28">2</tspan><tspan dy="28">)</tspan></text>
<text x="635" y="1686" font-family='"Liberation Sans", Arial, sans-serif' font-size="61" font-weight="normal" text-anchor="start" textLength="902" lengthAdjust="spacingAndGlyphs">Superhydrophobic Cu-Zn coating</text>
<text x="1731.5" y="1682" font-family='"Liberation Sans", Arial, sans-serif' font-size="76" font-weight="normal" text-anchor="middle" >(c)</text>
<text x="323.5" y="1856.6" font-family='"Liberation Sans", Arial, sans-serif' font-size="65" font-weight="normal" text-anchor="start" textLength="163" lengthAdjust="spacingAndGlyphs">Cu-Zn</text>
<text x="309.5" y="1938" font-family='"Liberation Sans", Arial, sans-serif' font-size="65" font-weight="normal" text-anchor="start" textLength="203.5" lengthAdjust="spacingAndGlyphs">coating</text>
<text x="349" y="2103" font-family='"Liberation Sans", Arial, sans-serif' font-size="65" font-weight="normal" text-anchor="start" textLength="287.5" lengthAdjust="spacingAndGlyphs">Steel plate</text>
</g>
</svg>
</body></html>
